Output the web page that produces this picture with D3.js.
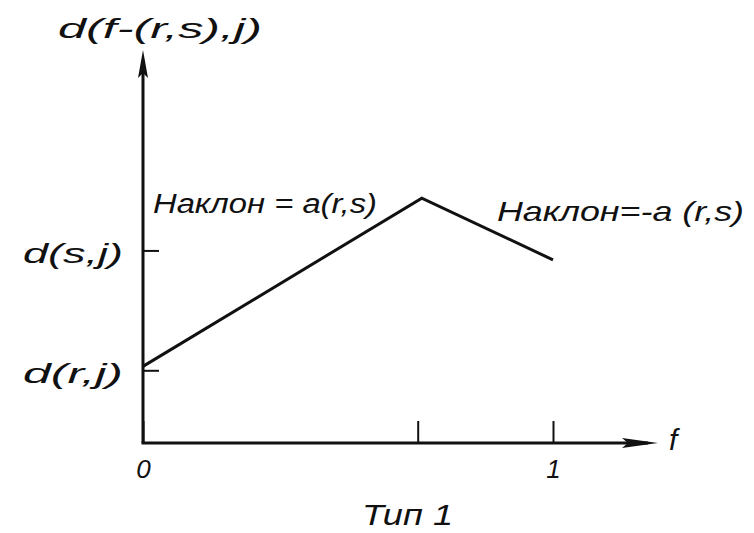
<!DOCTYPE html>
<html>
<head>
<meta charset="utf-8">
<script src="https://cdn.jsdelivr.net/npm/d3@7"></script>
<style>
  html, body { margin: 0; padding: 0; background: #fff; }
  svg text { font-family: "Liberation Sans", Arial, sans-serif; font-style: italic; fill: #111; }
</style>
</head>
<body>
<svg id="chart" width="754" height="533"></svg>
<script>
// ---- data ----
const curveF = [0, 0.68, 1.0];          // f values of the broken line
const curveD = [1.95, 6.23, 4.66];      // d(f-(r,s),j) values
const yTickValues = [1.85, 4.9];
const yTickLabels = ["d(r,j)", "d(s,j)"];
const xTickValues = [0, 0.67, 1];
const xTickLabels = ["0", "", "1"];
const yTitle = "d(f-(r,s),j)";
const xTitle = "f";
const caption = "Тип 1";
const slopeLeft = "Наклон = a(r,s)";
const slopeRight = "Наклон=-a (r,s)";

// ---- layout ----
const svg = d3.select("#chart");
const x = d3.scaleLinear().domain([0, 1]).range([143, 553]);
const y = d3.scaleLinear().domain([0, 10]).range([443, 50]);
const xAxisEnd = 1.256, yAxisEnd = 10;
const ink = "#111";

// axes lines
svg.append("line")
  .attr("x1", x(0)).attr("y1", y(0)).attr("x2", x(0)).attr("y2", y(yAxisEnd) + 10)
  .attr("stroke", ink).attr("stroke-width", 3);
svg.append("line")
  .attr("x1", x(0) - 1.5).attr("y1", y(0)).attr("x2", x(xAxisEnd) - 10).attr("y2", y(0))
  .attr("stroke", ink).attr("stroke-width", 3);

// arrowheads
const ux = x(0), uy = y(yAxisEnd);
svg.append("path")
  .attr("d", `M${ux},${uy} L${ux + 5},${uy + 28} L${ux},${uy + 23} L${ux - 5},${uy + 28} Z`)
  .attr("fill", ink);
const rx = x(xAxisEnd), ry = y(0);
svg.append("path")
  .attr("d", `M${rx},${ry} L${rx - 36},${ry - 5} L${rx - 30},${ry} L${rx - 36},${ry + 5} Z`)
  .attr("fill", ink);

// y axis ticks (inside, to the right)
const yAxis = d3.axisLeft(y)
  .tickValues(yTickValues)
  .tickFormat((d, i) => yTickLabels[i])
  .tickSizeInner(-16).tickSizeOuter(0).tickPadding(20);
const gy = svg.append("g").attr("transform", `translate(${x(0)},0)`).call(yAxis);
gy.select(".domain").remove();
gy.selectAll(".tick line").attr("stroke", ink).attr("stroke-width", 2);
gy.selectAll(".tick text")
  .attr("font-size", 28).attr("font-family", null)
  .attr("dy", "0.42em")
  .attr("textLength", 100).attr("lengthAdjust", "spacingAndGlyphs");

// x axis ticks (upward)
const xAxis = d3.axisBottom(x)
  .tickValues(xTickValues)
  .tickFormat((d, i) => xTickLabels[i])
  .tickSizeInner(-22).tickSizeOuter(0).tickPadding(17);
const gx = svg.append("g").attr("transform", `translate(0,${y(0)})`).call(xAxis);
gx.select(".domain").remove();
gx.selectAll(".tick line").attr("stroke", ink).attr("stroke-width", 2);
gx.selectAll(".tick text").attr("font-size", 26).attr("font-family", null);

// broken line
const pts = curveF.map((f, i) => [f, curveD[i]]);
svg.append("path")
  .datum(pts)
  .attr("d", d3.line().x(d => x(d[0])).y(d => y(d[1])))
  .attr("fill", "none").attr("stroke", ink).attr("stroke-width", 3)
  .attr("stroke-linejoin", "miter");

// texts
svg.append("text").attr("x", 58).attr("y", 38).attr("font-size", 27)
  .attr("textLength", 204).attr("lengthAdjust", "spacingAndGlyphs").text(yTitle);
svg.append("text").attr("x", 153).attr("y", 213).attr("font-size", 27)
  .attr("textLength", 224).attr("lengthAdjust", "spacingAndGlyphs").text(slopeLeft);
svg.append("text").attr("x", 497).attr("y", 221).attr("font-size", 28)
  .attr("textLength", 247).attr("lengthAdjust", "spacingAndGlyphs").text(slopeRight);
svg.append("text").attr("x", x(xAxisEnd) + 11).attr("y", 450).attr("font-size", 30).text(xTitle);
svg.append("text").attr("x", 362).attr("y", 525).attr("font-size", 30)
  .attr("textLength", 91).attr("lengthAdjust", "spacingAndGlyphs").text(caption);
</script>
</body>
</html>
